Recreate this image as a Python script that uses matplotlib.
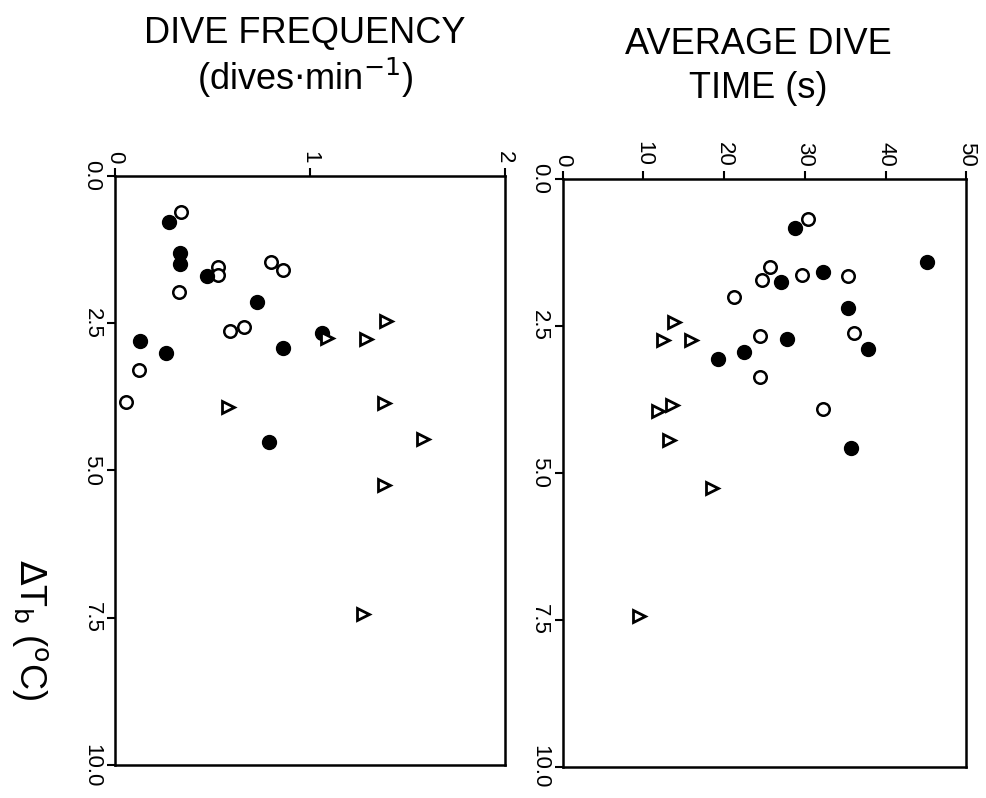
import matplotlib
matplotlib.use('Agg')
import matplotlib.pyplot as plt

plt.rcParams['font.family'] = ['Liberation Sans', 'DejaVu Sans']

# dive frequency panel (dives/min vs delta Tb)
freq_open_x = [0.34, 0.80, 0.86, 0.53, 0.53, 0.33, 0.66, 0.59, 0.125, 0.055]
freq_open_t = [0.61, 1.46, 1.60, 1.55, 1.68, 1.97, 2.57, 2.64, 3.29, 3.84]
freq_fill_x = [0.275, 0.335, 0.335, 0.47, 0.73, 1.06, 0.13, 0.86, 0.26, 0.79]
freq_fill_t = [0.79, 1.31, 1.50, 1.70, 2.14, 2.67, 2.80, 2.92, 3.01, 4.52]
freq_tri_x = [1.39, 1.29, 1.09, 0.58, 1.38, 1.58, 1.38, 1.27]
freq_tri_t = [2.47, 2.77, 2.75, 3.92, 3.86, 4.47, 5.24, 7.44]

# average dive time panel (s vs delta Tb)
time_open_x = [30.4, 25.7, 24.7, 29.7, 35.3, 21.2, 36.1, 24.5, 24.5, 32.3]
time_open_t = [0.69, 1.50, 1.72, 1.63, 1.65, 2.01, 2.62, 2.68, 3.37, 3.92]
time_fill_x = [28.8, 45.1, 32.2, 27.1, 35.4, 27.8, 37.8, 22.5, 19.3, 35.7]
time_fill_t = [0.84, 1.41, 1.58, 1.75, 2.19, 2.72, 2.90, 2.94, 3.07, 4.57]
time_tri_x = [13.8, 12.4, 15.9, 13.5, 11.8, 13.2, 18.5, 9.5]
time_tri_t = [2.44, 2.74, 2.74, 3.84, 3.95, 4.44, 5.25, 7.44]

dt_ticks = [0.0, 2.5, 5.0, 7.5, 10.0]

fig = plt.figure(figsize=(9.87, 7.98), dpi=100)
ax1 = fig.add_axes([0.1165, 0.041, 0.395, 0.739])
ax2 = fig.add_axes([0.570, 0.039, 0.409, 0.737])


def style(ax, xmax, xticks):
    ax.set_xlim(0, xmax)
    ax.set_ylim(10, 0)
    ax.set_xticks(xticks)
    ax.set_yticks(dt_ticks)
    ax.set_yticklabels(['%.1f' % v for v in dt_ticks])
    ax.xaxis.tick_top()
    ax.tick_params(axis='both', direction='out', length=6, width=1.5,
                   labelsize=16, pad=3)
    for lab in ax.get_xticklabels() + ax.get_yticklabels():
        lab.set_rotation(-90)
    for lab in ax.get_yticklabels():
        lab.set_verticalalignment('center')
    for sp in ax.spines.values():
        sp.set_linewidth(1.8)


ax1.plot(freq_open_x, freq_open_t, 'o', ms=9, mfc='white', mec='black', mew=1.8, ls='none')
ax1.plot(freq_fill_x, freq_fill_t, 'o', ms=10, mfc='black', mec='black', ls='none')
ax1.plot(freq_tri_x, freq_tri_t, '>', ms=9, mfc='white', mec='black', mew=2, ls='none')
style(ax1, 2, [0, 1, 2])

ax2.plot(time_open_x, time_open_t, 'o', ms=9, mfc='white', mec='black', mew=1.8, ls='none')
ax2.plot(time_fill_x, time_fill_t, 'o', ms=10, mfc='black', mec='black', ls='none')
ax2.plot(time_tri_x, time_tri_t, '>', ms=9, mfc='white', mec='black', mew=2, ls='none')
style(ax2, 50, [0, 10, 20, 30, 40, 50])

fig.text(305 / 987, 1 - 33 / 798, 'DIVE FREQUENCY', ha='center', va='center', fontsize=26)
fig.text(305 / 987, 1 - 78 / 798, r'(dives$\cdot$min$^{-1}$)', ha='center', va='center', fontsize=26)
fig.text(758 / 987, 1 - 45 / 798, 'AVERAGE DIVE', ha='center', va='center', fontsize=26)
fig.text(758 / 987, 1 - 88 / 798, 'TIME (s)', ha='center', va='center', fontsize=26)
fig.text(30 / 987, 1 - 630 / 798, r'$\Delta$T$_\mathrm{b}$ ($^\mathrm{o}$C)', rotation=-90,
         ha='center', va='center', fontsize=26)

fig.savefig('out.png', dpi=100)
